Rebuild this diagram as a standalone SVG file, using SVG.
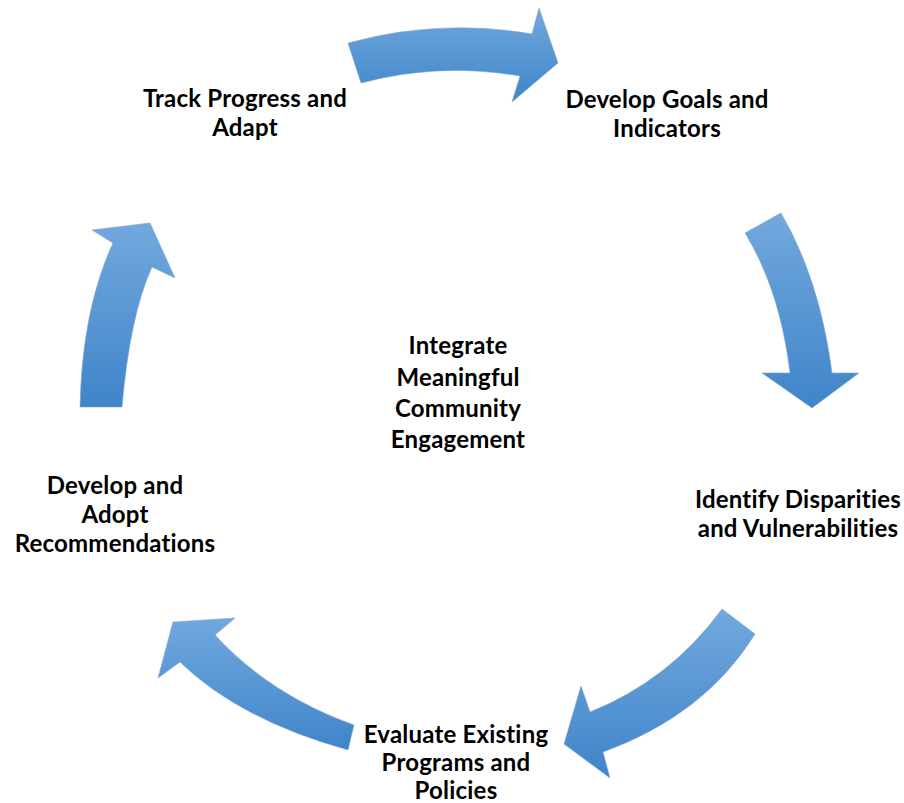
<svg xmlns="http://www.w3.org/2000/svg" width="904" height="803" viewBox="0 0 904 803">
<style>
.lbl{font-family:Lato,"Open Sans","Liberation Sans",sans-serif;font-weight:700;font-size:24px;letter-spacing:0.2px;fill:#000;text-anchor:middle}
.arr{fill:url(#g);stroke:#7fa6cf;stroke-width:0.6}
</style>
<defs>
<linearGradient id="g" x1="0" y1="0" x2="0" y2="1">
<stop offset="0" stop-color="#72a8de"/>
<stop offset="1" stop-color="#3f85c9"/>
</linearGradient>
</defs>
<rect width="904" height="803" fill="#fff"/>
<g id="connectors">
<path class="arr" d="M348,43 Q440,18 532,34 L539,8 L558,63 L512,102 L520,76 Q440,62 361,83 Z"/>
<path class="arr" d="M745,233 L781,213 Q820,280 832,373 L859,373 L812,408 L762,373 L790,373 Q780,290 745,233 Z"/>
<path class="arr" d="M722,609 L755,634 Q705,715 603,752 L610,778 L564,744 L581,686 L590,712 Q670,680 722,609 Z"/>
<path class="arr" d="M354,725 L348,750 Q240,720 180,662 L158,678 L173,622 L235,618 L215,635 Q270,695 354,725 Z"/>
<path class="arr" d="M80,407 L122,407 Q130,315 152,267 L175,278 L150,223 L92,230 L113,243 Q82,310 80,407 Z"/>
</g>
<g id="node-track">
<text class="lbl" x="245" y="107">Track Progress and</text>
<text class="lbl" x="245" y="136">Adapt</text>
</g>
<g id="node-goals">
<text class="lbl" x="667" y="108">Develop Goals and</text>
<text class="lbl" x="667" y="137">Indicators</text>
</g>
<g id="node-identify">
<text class="lbl" x="798" y="508">Identify Disparities</text>
<text class="lbl" x="798" y="537">and Vulnerabilities</text>
</g>
<g id="node-evaluate">
<text class="lbl" x="456" y="743">Evaluate Existing</text>
<text class="lbl" x="456" y="771">Programs and</text>
<text class="lbl" x="456" y="799">Policies</text>
</g>
<g id="node-recommend">
<text class="lbl" x="115" y="494">Develop and</text>
<text class="lbl" x="115" y="523">Adopt</text>
<text class="lbl" x="115" y="552">Recommendations</text>
</g>
<g id="node-center">
<text class="lbl" x="458" y="354">Integrate</text>
<text class="lbl" x="458" y="386">Meaningful</text>
<text class="lbl" x="458" y="417">Community</text>
<text class="lbl" x="458" y="448">Engagement</text>
</g>
</svg>
